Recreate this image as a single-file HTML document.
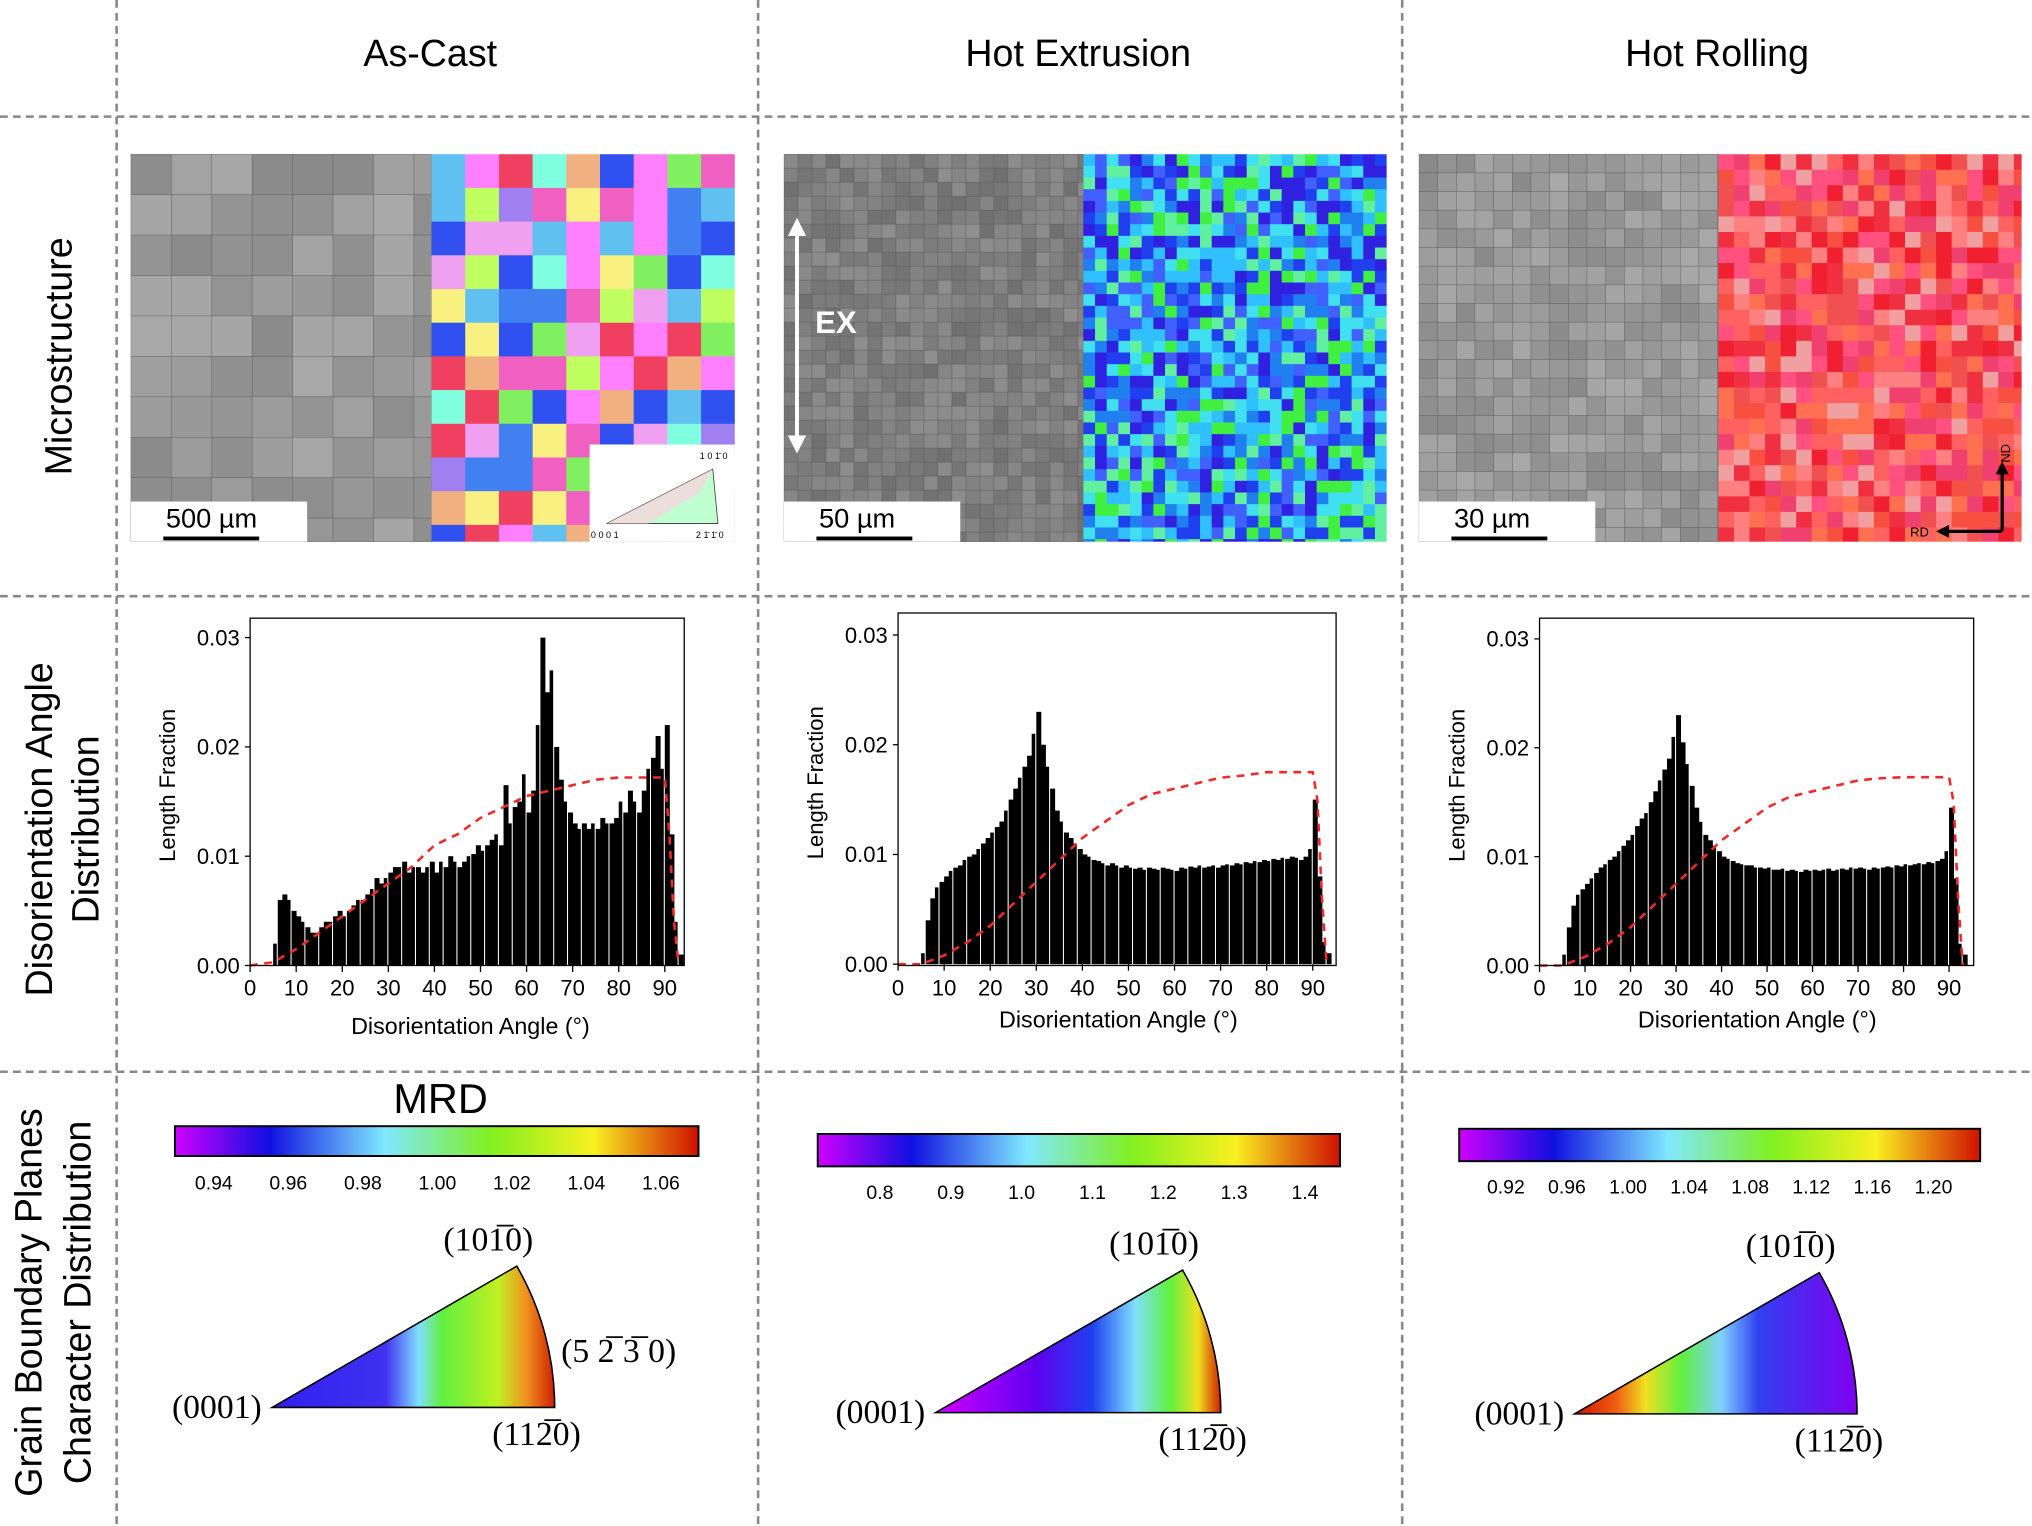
<!DOCTYPE html>
<html><head><meta charset="utf-8"><style>
html,body{margin:0;padding:0;background:#fff}
svg{display:block}
text{font-family:"Liberation Sans",sans-serif}
.serif{font-family:"Liberation Serif",serif}
</style></head><body>
<svg id="root" width="2032" height="1526" viewBox="0 0 1568 1177.5" preserveAspectRatio="none" xmlns="http://www.w3.org/2000/svg">
<defs>
<linearGradient id="mrd" x1="0" x2="1" y1="0" y2="0">
<stop offset="0" stop-color="#d000ff"/><stop offset="0.18" stop-color="#1010e0"/><stop offset="0.4" stop-color="#80e8ff"/><stop offset="0.6" stop-color="#80f020"/><stop offset="0.8" stop-color="#f8f020"/><stop offset="1" stop-color="#d01000"/>
</linearGradient>
<linearGradient id="g1" x1="210" x2="428" y1="0" y2="0" gradientUnits="userSpaceOnUse">
<stop offset="0" stop-color="#3020f0"/><stop offset="0.4" stop-color="#4030f0"/><stop offset="0.52" stop-color="#80e0ff"/><stop offset="0.6" stop-color="#60f040"/><stop offset="0.8" stop-color="#c0f020"/><stop offset="0.9" stop-color="#f09020"/><stop offset="1" stop-color="#d02000"/>
</linearGradient>
<linearGradient id="g2" x1="722" x2="942" y1="0" y2="0" gradientUnits="userSpaceOnUse">
<stop offset="0" stop-color="#d000ff"/><stop offset="0.35" stop-color="#6000f0"/><stop offset="0.55" stop-color="#2040f0"/><stop offset="0.7" stop-color="#80e0ff"/><stop offset="0.82" stop-color="#60f040"/><stop offset="0.92" stop-color="#f0e020"/><stop offset="1" stop-color="#d02000"/>
</linearGradient>
<linearGradient id="g3" x1="1215" x2="1433" y1="0" y2="0" gradientUnits="userSpaceOnUse">
<stop offset="0" stop-color="#d01000"/><stop offset="0.15" stop-color="#f06010"/><stop offset="0.25" stop-color="#f0e020"/><stop offset="0.38" stop-color="#60f040"/><stop offset="0.52" stop-color="#80d0ff"/><stop offset="0.65" stop-color="#3040f0"/><stop offset="1" stop-color="#8000f0"/>
</linearGradient>
</defs>
<g id="grid" stroke="#888" stroke-width="2" stroke-dasharray="6,4">
<line x1="90" y1="0" x2="90" y2="1178"/><line x1="585" y1="0" x2="585" y2="1178"/><line x1="1082" y1="0" x2="1082" y2="1178"/>
<line x1="0" y1="90" x2="1568" y2="90"/><line x1="0" y1="460" x2="1568" y2="460"/><line x1="0" y1="827" x2="1568" y2="827"/>
</g>
<text x="332" y="51" font-size="29" text-anchor="middle">As-Cast</text>
<text x="832" y="51" font-size="29" text-anchor="middle">Hot Extrusion</text>
<text x="1325" y="51" font-size="29" text-anchor="middle">Hot Rolling</text>
<text transform="translate(55,275) rotate(-90)" font-size="29" text-anchor="middle">Microstructure</text>
<text transform="translate(40,640) rotate(-90)" font-size="29" text-anchor="middle">Disorientation Angle</text>
<text transform="translate(76,640) rotate(-90)" font-size="29" text-anchor="middle">Distribution</text>
<text transform="translate(32,1005) rotate(-90)" font-size="29" text-anchor="middle">Grain Boundary Planes</text>
<text transform="translate(70,1005) rotate(-90)" font-size="29" text-anchor="middle">Character Distribution</text>
<g id="micro"></g>
<g id="charts"></g>
<g id="bottom"></g>
</svg>
<script>
const NS="http://www.w3.org/2000/svg";
function mk(tag,attrs,parent,txt){const e=document.createElementNS(NS,tag);for(const k in attrs)e.setAttribute(k,attrs[k]);if(txt!==undefined)e.textContent=txt;parent.appendChild(e);return e;}
let seed=12345;function rnd(){seed=(seed*16807)%2147483647;return (seed-1)/2147483646;}

// ---------- Microstructure panels ----------
const micro=document.getElementById('micro');
const panels=[
 {gx:101,ex:333,ex2:567,cell:26,pal:['#f0a0f0','#4080f0','#80f060','#f060c0','#f8f080','#60c0f0','#f0b080','#a080f0','#ff80ff','#3050f0','#c0ff60','#f04060','#80ffe0'],grey:0.6,scale:'500 µm'},
 {gx:605,ex:836,ex2:1070,cell:9,pal:['#2040f0','#40f040','#40e0f0','#3020e0','#60f0a0','#2080f0','#4060ff','#30c0ff'],grey:0.5,scale:'50 µm'},
 {gx:1095,ex:1326,ex2:1560,cell:12,pal:['#f03040','#f05050','#ff6060','#f04070','#ff7050','#f02030','#ff8080','#f85040','#ff5080','#f0a0a0'],grey:0.6,scale:'30 µm'}
];
panels.forEach((p,i)=>{
  const g=mk('g',{},micro);
  
  
  mk('rect',{x:p.gx,y:119,width:p.ex-p.gx,height:299,fill:'#8a8a8a'},g);
  const cs=p.cell*1.2;
  for(let y=119;y<418;y+=cs){for(let x=p.gx;x<p.ex;x+=cs){
    const v=Math.round(255*(p.grey+(rnd()-0.5)*0.12));
    mk('rect',{x:x,y:y,width:Math.min(cs,p.ex-x),height:Math.min(cs,418-y),fill:`rgb(${v},${v},${v})`,stroke:'#555','stroke-width':0.4,'stroke-opacity':0.6},g);
  }}
  const e=mk('g',{},micro);
  
  
  for(let y=119;y<418;y+=p.cell){for(let x=p.ex;x<p.ex2;x+=p.cell){
    const c=p.pal[Math.floor(rnd()*p.pal.length)];
    mk('rect',{x:x,y:y,width:Math.min(p.cell+0.5,p.ex2-x),height:Math.min(p.cell+0.5,418-y),fill:c},e);
  }}
  const sb=mk('g',{},micro);
  
  
  mk('rect',{x:p.gx,y:387,width:136,height:31,fill:'#fff'},sb);
  mk('text',{x:p.gx+27,y:407,'font-size':21},sb,p.scale);
  mk('rect',{x:p.gx+25,y:414,width:74,height:3,fill:'#000'},sb);
});
(function(){const g=mk('g',{},micro);


mk('rect',{x:455,y:343,width:112,height:75,fill:'#fff'},g);
mk('polygon',{points:'468,404 554,404 550,362',fill:'#c0ffd0',stroke:'#333','stroke-width':0.6},g);
mk('polygon',{points:'468,404 500,404 540,380 550,362',fill:'#ffd0e0',opacity:0.7},g);
mk('text',{x:540,y:354,'font-size':7},g,'1 0 1̄ 0');
mk('text',{x:456,y:415,'font-size':7},g,'0 0 0 1');
mk('text',{x:537,y:415,'font-size':7},g,'2 1̄ 1̄ 0');})();
(function(){const g=mk('g',{},micro);


mk('line',{x1:615,y1:178,x2:615,y2:340,stroke:'#fff','stroke-width':3},g);
mk('polygon',{points:'608,182 622,182 615,168',fill:'#fff'},g);
mk('polygon',{points:'608,336 622,336 615,350',fill:'#fff'},g);
mk('text',{x:629,y:257,'font-size':24,'font-weight':'bold',fill:'#fff'},g,'EX');})();
(function(){const g=mk('g',{},micro);


mk('line',{x1:1545,y1:410,x2:1545,y2:362,stroke:'#000','stroke-width':2.5},g);
mk('line',{x1:1545,y1:410,x2:1500,y2:410,stroke:'#000','stroke-width':2.5},g);
mk('polygon',{points:'1540,366 1550,366 1545,356',fill:'#000'},g);
mk('polygon',{points:'1504,405 1504,415 1494,410',fill:'#000'},g);
mk('text',{x:1474,y:414,'font-size':10},g,'RD');
mk('text',{transform:'translate(1551,357) rotate(-90)','font-size':10},g,'ND');})();

// ---------- Histogram data ----------
const angles=[];for(let a=0;a<=93;a++)angles.push(a);
const castValues=[0,0,0,0,0,0.002,0.006,0.0065,0.006,0.005,0.0045,0.004,0.0035,0.003,0.003,0.0035,0.004,0.004,0.0045,0.005,0.0045,0.005,0.0055,0.006,0.006,0.0065,0.007,0.008,0.0075,0.008,0.0085,0.009,0.009,0.0095,0.0085,0.009,0.009,0.0085,0.009,0.0095,0.0085,0.0095,0.009,0.01,0.0095,0.009,0.0095,0.01,0.0102,0.011,0.0105,0.011,0.0115,0.012,0.011,0.0165,0.013,0.0145,0.015,0.0175,0.014,0.016,0.022,0.03,0.025,0.027,0.02,0.017,0.015,0.014,0.013,0.0125,0.013,0.0125,0.013,0.0125,0.0135,0.013,0.013,0.0135,0.015,0.014,0.016,0.015,0.014,0.016,0.018,0.019,0.021,0.018,0.022,0.012,0.004,0.001];
const extrValues=[0,0,0,0,0,0.001,0.004,0.006,0.007,0.0075,0.008,0.0085,0.0088,0.009,0.0095,0.0098,0.01,0.0105,0.011,0.0115,0.012,0.0125,0.013,0.014,0.015,0.016,0.017,0.018,0.019,0.021,0.023,0.02,0.018,0.016,0.014,0.013,0.012,0.0115,0.011,0.0105,0.01,0.0098,0.0095,0.0094,0.0092,0.009,0.0092,0.009,0.0088,0.009,0.0088,0.0087,0.0088,0.0086,0.0088,0.0087,0.0086,0.0088,0.0087,0.0086,0.0085,0.0088,0.0087,0.0089,0.0088,0.009,0.0088,0.0089,0.009,0.0088,0.009,0.0091,0.009,0.0092,0.0091,0.0093,0.0092,0.0094,0.0093,0.0095,0.0094,0.0096,0.0095,0.0097,0.0096,0.0098,0.0097,0.0095,0.0098,0.0105,0.015,0.008,0.002,0.001];
const rollValues=[0,0,0,0,0,0.001,0.0035,0.0055,0.0065,0.007,0.0075,0.008,0.0085,0.009,0.0093,0.0097,0.01,0.0105,0.011,0.0115,0.012,0.0128,0.0135,0.014,0.015,0.016,0.017,0.018,0.019,0.021,0.023,0.0205,0.0185,0.0165,0.0145,0.0132,0.012,0.0115,0.011,0.0105,0.01,0.0098,0.0096,0.0094,0.0093,0.0092,0.0092,0.009,0.009,0.0089,0.009,0.0088,0.0088,0.0089,0.0087,0.0088,0.0087,0.0086,0.0088,0.0087,0.0088,0.0087,0.0088,0.0089,0.0087,0.0088,0.0089,0.0088,0.009,0.0089,0.009,0.0089,0.0088,0.009,0.0089,0.009,0.0091,0.009,0.0092,0.0091,0.0093,0.0092,0.0093,0.0094,0.0093,0.0095,0.0094,0.0096,0.0098,0.0105,0.0145,0.008,0.002,0.001];
const mackAngles=[0,5,10,15,20,25,30,35,40,45,50,55,60,65,70,75,80,85,90,91,92,93];
const castMack=[0,0.0003,0.0015,0.003,0.0045,0.006,0.0075,0.009,0.011,0.012,0.0135,0.0145,0.0155,0.016,0.0165,0.017,0.0172,0.0172,0.0172,0.012,0.004,0];
const extrMack=[0,0,0.0008,0.002,0.0035,0.0055,0.0075,0.0095,0.0115,0.013,0.0145,0.0155,0.016,0.0165,0.017,0.0172,0.0175,0.0175,0.0175,0.015,0.006,0];
const rollMack=[0,0,0.0008,0.002,0.0035,0.0055,0.0075,0.0095,0.0115,0.013,0.0145,0.0155,0.016,0.0165,0.017,0.0172,0.0173,0.0173,0.0173,0.015,0.006,0];
const xTicks=[0,10,20,30,40,50,60,70,80,90];
const yTicks=[0,0.01,0.02,0.03];
const yTickLabels=['0.00','0.01','0.02','0.03'];

const charts=document.getElementById('charts');
const chartDefs=[
 {name:'as-cast',vals:castValues,mack:castMack,box:[193,477,528,745],x0:193,x90:513,y0:745,y3:492,xt:768,yl:798},
 {name:'hot-extrusion',vals:extrValues,mack:extrMack,box:[693,473,1031,745],x0:693,x90:1013,y0:744,y3:490,xt:768,yl:793},
 {name:'hot-rolling',vals:rollValues,mack:rollMack,box:[1188,477,1523,745],x0:1188,x90:1504,y0:745,y3:493,xt:768,yl:793}
];
chartDefs.forEach(c=>{
  const g=mk('g',{},charts);
  
  
  const xs=a=>c.x0+(c.x90-c.x0)*a/90;
  const ys=v=>c.y0-(c.y0-c.y3)*v/0.03;
  const w=xs(1)-xs(0);
  angles.forEach((a,i)=>{
    const v=c.vals[i]; if(!v)return;
    const r=mk('rect',{x:xs(a),y:ys(v),width:(i%3===2)?w-0.8:w+0.3,height:c.y0-ys(v),fill:'#000'},g);
    
    
  });
  const pts=mackAngles.map((a,i)=>xs(a)+','+ys(c.mack[i])).join(' ');
  const pl=mk('polyline',{points:pts,fill:'none',stroke:'#ee2a2a','stroke-width':2,'stroke-dasharray':'6,5'},g);
  
  
  const [bx0,by0,bx1,by1]=c.box;
  const fr=mk('rect',{x:bx0,y:by0,width:bx1-bx0,height:by1-by0,fill:'none',stroke:'#000','stroke-width':1},g);
  
  
  xTicks.forEach(t=>{
    mk('line',{x1:xs(t),y1:c.y0,x2:xs(t),y2:c.y0+5,stroke:'#000'},g);
    const tx=mk('text',{x:xs(t),y:c.xt,'font-size':17,'text-anchor':'middle'},g,String(t));
    
    
  });
  yTicks.forEach((t,i)=>{
    mk('line',{x1:bx0-4,y1:ys(t),x2:bx0,y2:ys(t),stroke:'#000'},g);
    const ty=mk('text',{x:bx0-8,y:ys(t)+6,'font-size':17,'text-anchor':'end'},g,yTickLabels[i]);
    
    
  });
  const xl=mk('text',{x:(c.x0+c.x90)/2+10,y:c.yl,'font-size':18,'text-anchor':'middle'},g,'Disorientation Angle (°)');
  
  
  const yl=mk('text',{transform:`translate(${bx0-58},${(by0+by1)/2-5}) rotate(-90)`,'font-size':17,'text-anchor':'middle'},g,'Length Fraction');
  
  
});

// ---------- Colorbars ----------
const cb1Ticks=['0.94','0.96','0.98','1.00','1.02','1.04','1.06'];
const cb2Ticks=['0.8','0.9','1.0','1.1','1.2','1.3','1.4'];
const cb3Ticks=['0.92','0.96','1.00','1.04','1.08','1.12','1.16','1.20'];
const bottom=document.getElementById('bottom');
const cbs=[
 {name:'as-cast',x:135,y:869,w:404,h:23,ticks:cb1Ticks,t0:165,t1:510,ty:918},
 {name:'hot-extrusion',x:631,y:875,w:403,h:25,ticks:cb2Ticks,t0:679,t1:1007,ty:925},
 {name:'hot-rolling',x:1126,y:871,w:402,h:25,ticks:cb3Ticks,t0:1162,t1:1492,ty:921}
];
cbs.forEach(c=>{
  const g=mk('g',{},bottom);
  
  
  mk('rect',{x:c.x,y:c.y,width:c.w,height:c.h,fill:'url(#mrd)',stroke:'#000','stroke-width':1.5},g);
  c.ticks.forEach((t,i)=>{
    const x=c.t0+(c.t1-c.t0)*i/(c.ticks.length-1);
    mk('text',{x:x,y:c.ty,'font-size':15,'text-anchor':'middle'},g,t);
  });
});
mk('text',{x:340,y:859,'font-size':32,'text-anchor':'middle'},bottom,'MRD');

const sectors=[
 {name:'as-cast',ax:210,ay:1086,r:218,fill:'url(#g1)'},
 {name:'hot-extrusion',ax:722,ay:1090,r:220,fill:'url(#g2)'},
 {name:'hot-rolling',ax:1215,ay:1091,r:218,fill:'url(#g3)'}
];
sectors.forEach(s=>{
  const g=mk('g',{},bottom);
  
  
  const a=Math.PI/6, tx=s.ax+s.r*Math.cos(a), ty=s.ay-s.r*Math.sin(a);
  mk('path',{d:`M${s.ax},${s.ay} L${s.ax+s.r},${s.ay} A${s.r},${s.r} 0 0 0 ${tx},${ty} Z`,fill:s.fill,stroke:'#000','stroke-width':1.2},g);
  mk('text',{x:tx-22,y:ty-12,'font-size':26,'text-anchor':'middle',class:'serif'},g,'(101\u03050)');
  mk('text',{x:s.ax-8,y:s.ay+8,'font-size':26,'text-anchor':'end',class:'serif'},g,'(0001)');
  mk('text',{x:s.ax+s.r-14,y:s.ay+29,'font-size':26,'text-anchor':'middle',class:'serif'},g,'(112\u03050)');
});
mk('text',{x:433,y:1051,'font-size':26,class:'serif'},bottom,'(5 2\u0305 3\u0305 0)');
</script>
</body></html>
